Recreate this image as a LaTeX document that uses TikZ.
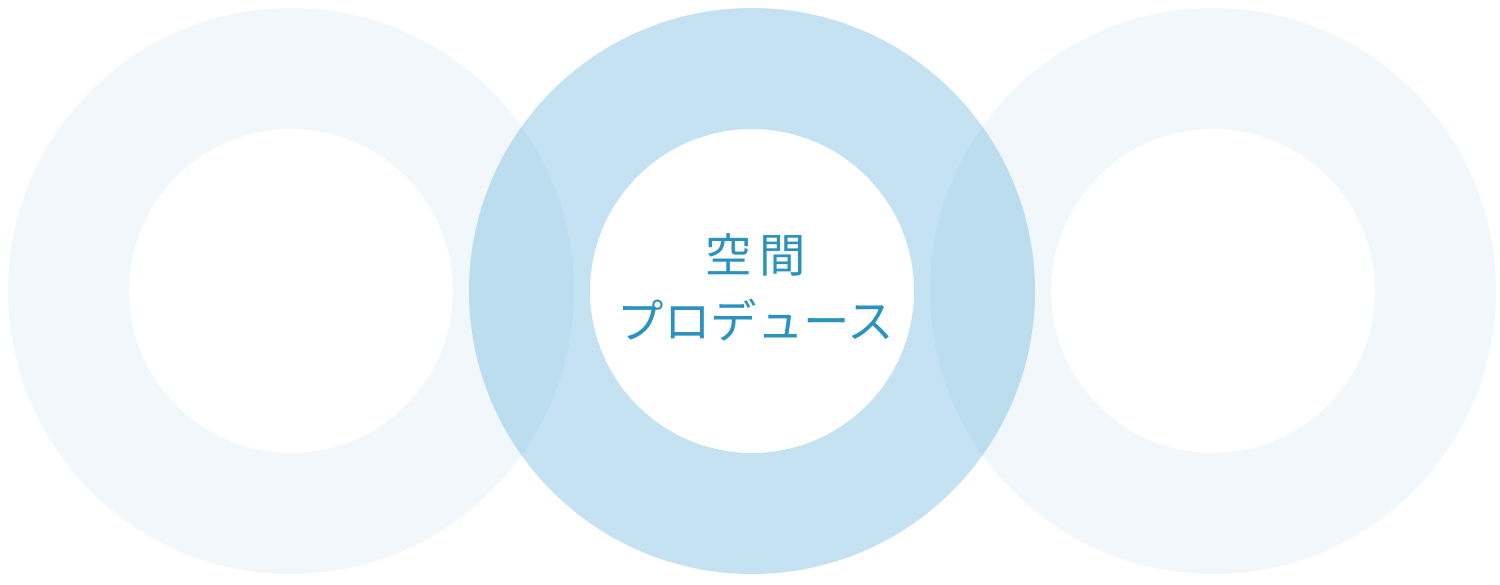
\documentclass[tikz,border=0pt]{standalone}
\usepackage{fontspec}
\newfontfamily\cjk{Noto Sans CJK JP}
\definecolor{ringpale}{HTML}{F1F7FA}
\definecolor{ringmid}{HTML}{7DBEE1}
\definecolor{titleblue}{HTML}{2A92BE}
\tikzset{
	paleRing/.style={fill=ringpale, even odd rule},
	midRing/.style={fill=ringmid, fill opacity=0.45, even odd rule},
	titleText/.style={text=titleblue, align=center, font=\cjk\fontsize{23.2pt}{33pt}\selectfont}
}
\begin{document}
\begin{tikzpicture}[x=0.5pt, y=0.5pt]
	% Frame:
	\useasboundingbox (0, 0) rectangle (1500, 584);
	% Rings:
	\path[paleRing] (291, 293) circle (283) (291, 293) circle (162);
	\path[paleRing] (1213, 293) circle (283) (1213, 293) circle (162);
	\path[midRing] (752, 293) circle (283) (752, 293) circle (162);
	% Label:
	\node[titleText](T1) at (756, 297){空\hspace{4pt}間\\プロデュース};
\end{tikzpicture}
\end{document}
